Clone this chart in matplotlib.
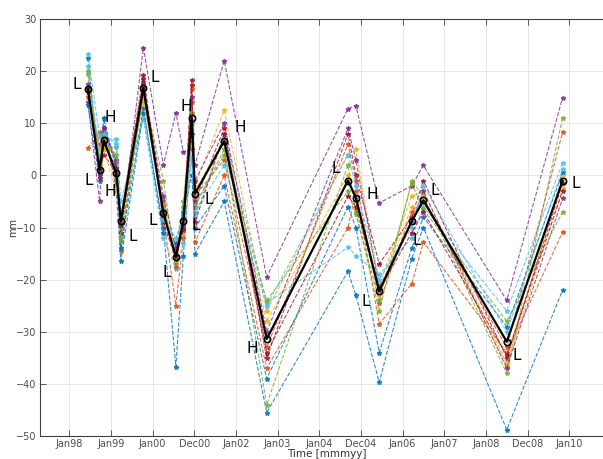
import numpy as np
import matplotlib
matplotlib.use('Agg')
import matplotlib.pyplot as plt

# epoch times (decimal years) and displacements in mm
t = [1998.45, 1998.73, 1998.83, 1999.13, 1999.24, 1999.78, 2000.26, 2000.56, 2000.74, 2000.94,
     2001.02, 2001.72, 2002.74, 2004.69, 2004.88, 2005.44, 2006.22, 2006.50, 2008.50, 2009.84]

mean_disp = [16.5, 1.1, 6.7, 0.4, -8.8, 16.8, -7.2, -15.6, -8.8, 11.0,
             -3.5, 6.6, -31.4, -1.0, -4.3, -22.2, -8.8, -4.8, -31.9, -1.0]

tide = ['L', 'L', 'H', 'H', 'L', 'L', 'L', 'L', 'L', 'H',
        'L', 'H', 'H', 'L', 'H', 'L', 'L', 'L', 'L', 'L']

s01 = [22.5, 0, 11, -3, -16.4, 12, -10, -36.7, -15.4, 8, -15, -5, -45.5, -18.4, -23, -39.7, -16, -10, -48.8, -22]
s02 = [5.2, 8.3, 7, 3, -14.6, 18, -8, -25, -12, 14, -12.8, 0, -37, -10, -3, -28.5, -20.8, -12.8, -34, -10.9]
s03 = [17, 5, 8, 0, -10, 15, -6, -14, -9, 12, -2, 12.5, -26, 4, 5, -21, -4, -3, -36, 0]
s04 = [14, -5, 9, 2.3, -11, 24.5, 2, 12, 4.5, 5, 2, 22, -19.5, 12.8, 13.4, -5.3, -2, 1.9, -24, 14.9]
s05 = [20, 3, 5, 5.5, -12.6, 16, -1, -17, -6, 10, -6, 5, -44, 2, -7, -26, -1.1, -4, -38, 11]
s06 = [23.3, 7.5, 6, 7, -5, 10.8, -12, -18, -13, 3, -8, 8, -24.5, -13.8, -15.4, -19, -12, -6, -26, 2.4]
s07 = [16, 1, 4, 0.5, -8, 19.3, -9, -16, -10, 18.3, -5, 9, -35, 8, 0, -17, -8, -1, -35, -1.5]
s08 = [13.5, -1, 11, 1, -14, 13, -11, -13, -7, 0, -10, -2, -39, -6, -10, -34, -14, -8, -29, 0.6]
s09 = [15, 6, 7.5, -1, -9, 17, -5, -17.5, -8, 16.5, -4, 3, -33, 6, -1, -24.5, -7, -5, -33, 8.3]
s10 = [16.5, 2, 5, -3, -7, 14, -7, -15, -11, 6, -3, 7, -28, 0, -5, -23, -6, -4, -36.5, -2.5]
s11 = [17.5, 0.5, 9, 3, -11, 17.5, -4, -14, -9.5, 15, -1, 10, -30, 9, 3, -21.5, -9, -3, -37, -4.4]
s12 = [19.5, 2.5, 6.5, 4, -12, 15.5, -6.5, -16.5, -5, 12, -5.5, 4, -24, -3, -7.5, -24, -1.5, -6.5, -28, -7]
s13 = [21, 4, 8, 6, -8, 16.5, -8.5, -12, -8, 3.5, -7, 2, -25, 4, -2, -20, -10, -2, -30, 1.2]
s14 = [16.8, -0.5, 6, 1.5, -9.5, 18.5, -7.5, -15.5, -10.5, 17.3, -9, 8, -34, -4, -6, -22, -11, -7, -34.5, -3]

tick_years = [1998, 1999, 2000, 2001, 2002, 2003, 2004, 2005, 2006, 2007, 2008, 2009, 2010]
tick_labels = ['Jan98', 'Jan99', 'Jan00', 'Dec00', 'Jan02', 'Jan03', 'Jan04',
               'Dec04', 'Jan06', 'Jan07', 'Jan08', 'Dec08', 'Jan10']

series = [s01, s02, s03, s04, s05, s06, s07, s08, s09, s10, s11, s12, s13, s14]
matlab_colors = ['#0072BD', '#D95319', '#EDB120', '#7E2F8E', '#77AC30', '#4DBEEE', '#A2142F']

# label offsets in points (dx, dy) for the L/H tags
label_off = [(-7.7, 3.8), (-8.1, -7.7), (4.5, 16.6), (-4.5, -13.2), (8.9, -10.8),
             (8.4, 7.7), (-7.4, -5.5), (-6.3, -11.5), (9.1, -3.1), (-4.1, 8.4),
             (10.1, -4.1), (11.3, 9.9), (-10.6, -7.0), (-9.1, 8.6), (11.7, 2.4),
             (-9.4, -7.7), (3.6, -13.9), (8.4, 7.2), (7.4, -10.3), (9.6, -2.2)]

fig = plt.figure(figsize=(6.03, 4.59), dpi=100)
ax = fig.add_axes([40 / 603, 23 / 459, 573 / 603, 417 / 459])

for i, s in enumerate(series):
    ax.plot(t, s, '--', marker='*', ms=3.5, lw=0.8, c=matlab_colors[i % 7], alpha=0.8)

ax.plot(t, mean_disp, '-', c='k', lw=1.6, marker='o', ms=4.5, mfc='none', mew=1.2, zorder=5)

for x, y, lab, off in zip(t, mean_disp, tide, label_off):
    ax.annotate(lab, (x, y), xytext=off, textcoords='offset points',
                ha='center', va='center', fontsize=11, color='k', zorder=6)

ax.set_xlim(1997.30, 2011.05)
ax.set_ylim(-50, 30)
ax.set_xticks(tick_years)
ax.set_xticklabels(tick_labels)
ax.set_yticks(np.arange(-50, 31, 10))
ax.grid(True, color='#e3e3e3', lw=0.6)
ax.set_axisbelow(True)
ax.tick_params(direction='in', top=True, length=4, width=0.6, labelsize=7, pad=2.5,
               labelcolor='#4d4d4d', color='#404040')
for sp in ax.spines.values():
    sp.set_color('#404040')
    sp.set_linewidth(0.8)
ax.set_xlabel('Time [mmmyy]', fontsize=7.5, color='#333333', labelpad=0)
ax.set_ylabel('mm', fontsize=7, color='#333333')
ax.yaxis.set_label_coords(-0.039, 0.5)

fig.savefig('out.png', dpi=100)
